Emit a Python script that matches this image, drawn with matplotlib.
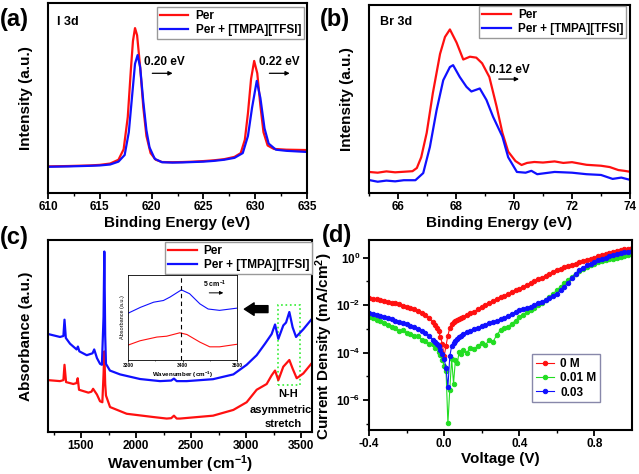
import numpy as np
import matplotlib
matplotlib.use("Agg")
import matplotlib.pyplot as plt
from matplotlib.ticker import MultipleLocator, FixedLocator, NullFormatter, NullLocator
from matplotlib.patches import Rectangle

plt.rcParams["font.family"] = ["Liberation Sans", "DejaVu Sans"]
plt.rcParams["font.weight"] = "bold"
plt.rcParams["axes.labelweight"] = "bold"
plt.rcParams["mathtext.fontset"] = "custom"
plt.rcParams["mathtext.rm"] = "Liberation Sans:bold"
plt.rcParams["mathtext.bf"] = "Liberation Sans:bold"
plt.rcParams["mathtext.it"] = "Liberation Sans:bold:italic"
plt.rcParams["mathtext.default"] = "rm"

RED, BLUE, GREEN = "#ff1010", "#1010ff", "#22dd22"

# (a) I 3d XPS, normalised intensity
a_e_red = [610, 612, 614, 615, 616, 616.8, 617.3, 617.7, 618.0, 618.2, 618.4, 618.6, 618.9, 619.2,
           619.5, 619.9, 620.4, 621, 622, 623, 624, 625, 626, 627, 628, 628.6, 629.0, 629.3,
           629.6, 629.9, 630.2, 630.5, 630.8, 631.2, 631.8, 633, 635]
a_red = [0.140, 0.142, 0.145, 0.148, 0.155, 0.175, 0.23, 0.40, 0.65, 0.80, 0.868, 0.83, 0.66, 0.45,
         0.30, 0.21, 0.175, 0.163, 0.162, 0.163, 0.165, 0.168, 0.172, 0.178, 0.19, 0.21, 0.28, 0.42,
         0.60, 0.695, 0.63, 0.46, 0.32, 0.25, 0.232, 0.228, 0.226]
a_e_blue = [610, 612, 614, 615, 616, 616.8, 617.4, 617.8, 618.1, 618.4, 618.65, 618.9, 619.2, 619.5,
            619.8, 620.3, 621, 622, 623, 624, 625, 626, 627, 628, 628.8, 629.3, 629.7, 630.15,
            630.5, 630.9, 631.3, 632, 633, 635]
a_blue = [0.138, 0.140, 0.143, 0.145, 0.150, 0.165, 0.20, 0.32, 0.50, 0.68, 0.726, 0.66, 0.48, 0.33,
          0.24, 0.18, 0.162, 0.160, 0.161, 0.163, 0.165, 0.169, 0.175, 0.185, 0.21, 0.30, 0.45, 0.59,
          0.50, 0.34, 0.26, 0.228, 0.222, 0.216]

# (b) Br 3d XPS
b_e_red = [65.0, 65.3, 65.6, 65.9, 66.2, 66.5, 66.65, 66.8, 66.99, 67.2, 67.45, 67.62, 67.79, 68.02,
           68.25, 68.48, 68.7, 68.9, 69.15, 69.4, 69.6, 69.8, 70.05, 70.26, 70.45, 70.7, 71.0, 71.4,
           71.7, 72.0, 72.5, 73.0, 73.3, 73.6, 73.8, 74.0]
b_red = [0.112, 0.108, 0.115, 0.110, 0.113, 0.116, 0.133, 0.19, 0.32, 0.53, 0.74, 0.83, 0.87, 0.80,
         0.71, 0.725, 0.72, 0.69, 0.617, 0.46, 0.32, 0.22, 0.17, 0.149, 0.16, 0.165, 0.162, 0.168,
         0.160, 0.164, 0.150, 0.145, 0.138, 0.122, 0.118, 0.113]
b_e_blue = [65.0, 65.3, 65.6, 65.9, 66.2, 66.6, 66.87, 67.1, 67.33, 67.56, 67.79, 67.9, 68.13, 68.36,
            68.53, 68.82, 69.05, 69.28, 69.6, 69.8, 70.1, 70.4, 70.6, 70.8, 71.1, 71.4, 72.0, 72.5,
            73.0, 73.4, 73.7, 74.0]
b_blue = [0.069, 0.060, 0.066, 0.062, 0.068, 0.068, 0.106, 0.245, 0.44, 0.60, 0.67, 0.68, 0.617, 0.565,
          0.54, 0.556, 0.495, 0.405, 0.30, 0.19, 0.112, 0.108, 0.118, 0.100, 0.106, 0.112, 0.108, 0.100,
          0.096, 0.075, 0.082, 0.070]

# (c) FTIR
c_w_blue = [1203, 1309, 1340, 1350, 1362, 1400, 1460, 1472, 1485, 1552, 1605, 1620, 1645, 1673, 1690,
            1705, 1712, 1720, 1727, 1763, 1855, 2036, 2218, 2320, 2345, 2370, 2461, 2700, 2885, 3006,
            3097, 3173, 3233, 3264, 3294, 3339, 3364, 3394, 3424, 3455, 3521, 3600]
c_blue = [0.51, 0.495, 0.50, 0.585, 0.49, 0.46, 0.43, 0.445, 0.42, 0.40, 0.41, 0.43, 0.385, 0.355,
          0.35, 0.60, 0.94, 0.50, 0.355, 0.32, 0.30, 0.276, 0.265, 0.268, 0.278, 0.265, 0.265, 0.275,
          0.30, 0.35, 0.40, 0.46, 0.51, 0.56, 0.485, 0.555, 0.57, 0.625, 0.545, 0.495, 0.535, 0.59]
c_w_red = [1203, 1309, 1340, 1350, 1364, 1430, 1460, 1470, 1482, 1567, 1595, 1610, 1645, 1673, 1694,
           1705, 1712, 1720, 1727, 1764, 1915, 2157, 2279, 2320, 2345, 2370, 2400, 2700, 2885, 3006,
           3097, 3188, 3233, 3264, 3294, 3339, 3394, 3424, 3461, 3521, 3600]
c_red = [0.27, 0.265, 0.27, 0.35, 0.26, 0.25, 0.255, 0.28, 0.22, 0.205, 0.21, 0.225, 0.195, 0.16,
         0.155, 0.30, 0.42, 0.25, 0.19, 0.13, 0.095, 0.078, 0.07, 0.072, 0.085, 0.07, 0.07, 0.085,
         0.115, 0.155, 0.22, 0.25, 0.295, 0.32, 0.27, 0.34, 0.375, 0.33, 0.28, 0.305, 0.36]
# inset of (c)
in_w_blue = [3300, 3323, 3347, 3365, 3377, 3398, 3413, 3432, 3447, 3468, 3500]
in_blue = [0.55, 0.62, 0.68, 0.70, 0.74, 0.825, 0.78, 0.66, 0.60, 0.584, 0.61]
in_w_red = [3300, 3322, 3353, 3371, 3395, 3408, 3432, 3450, 3468, 3500]
in_red = [0.175, 0.226, 0.27, 0.28, 0.32, 0.30, 0.21, 0.155, 0.155, 0.185]

# (d) dark J-V, log10 of current density
d_v = np.round(np.r_[np.arange(-0.40, -0.059, 0.02), np.arange(-0.05, 0.101, 0.01),
                     np.arange(0.12, 1.001, 0.02)], 2)
d_0M = [-1.72, -1.74, -1.76, -1.79, -1.82, -1.86, -1.89, -1.93, -1.97, -2.02, -2.07, -2.12, -2.18,
        -2.24, -2.32, -2.42, -2.55, -2.72,
        -2.84, -2.95, -3.08, -3.33, -3.62, -4.15, -3.70, -3.28, -2.95, -2.80, -2.72, -2.66, -2.62,
        -2.58, -2.53, -2.49,
        -2.42, -2.35, -2.27, -2.16, -2.07, -2.01, -1.93, -1.84, -1.75, -1.66, -1.61, -1.54, -1.46,
        -1.38, -1.30, -1.23, -1.16, -1.08, -1.00, -0.92, -0.84, -0.76, -0.69, -0.61, -0.53, -0.47,
        -0.41, -0.35, -0.30, -0.25, -0.20, -0.15, -0.10, -0.05, 0.00, 0.05, 0.10, 0.14, 0.19, 0.24,
        0.28, 0.31, 0.35, 0.38, 0.42]
d_001M = [-2.49, -2.55, -2.62, -2.68, -2.76, -2.84, -2.90, -2.97, -3.10, -3.05, -3.19, -3.22, -3.30,
          -3.28, -3.45, -3.52, -3.65, -3.62,
          -3.80, -3.70, -3.95, -4.10, -4.30, -4.55, -4.75, -6.97, -5.55, -4.25, -5.30, -4.30, -4.45,
          -3.95, -4.05, -3.90,
          -4.00, -3.80, -3.85, -3.70, -3.60, -3.68, -3.45, -3.55, -3.25, -3.05, -2.98, -2.90, -2.78,
          -2.65, -2.49, -2.40, -2.30, -2.22, -2.10, -2.00, -1.90, -1.80, -1.66, -1.52, -1.37, -1.22,
          -1.07, -0.93, -0.80, -0.67, -0.56, -0.46, -0.38, -0.31, -0.25, -0.20, -0.15, -0.11, -0.07,
          -0.04, 0.00, 0.03, 0.07, 0.10, 0.14]
d_003 = [-2.35, -2.39, -2.43, -2.47, -2.51, -2.56, -2.60, -2.65, -2.70, -2.75, -2.80, -2.86, -2.93,
         -2.99, -3.08, -3.19, -3.30, -3.45,
         -3.54, -3.62, -3.72, -3.89, -4.05, -4.25, -4.66, -5.45, -4.15, -3.72, -3.58, -3.50, -3.42,
         -3.36, -3.28, -3.20,
         -3.14, -3.07, -3.01, -2.94, -2.88, -2.83, -2.77, -2.72, -2.66, -2.60, -2.54, -2.46, -2.37,
         -2.30, -2.22, -2.18, -2.13, -2.07, -2.00, -1.93, -1.86, -1.79, -1.70, -1.61, -1.51, -1.38,
         -1.22, -1.06, -0.86, -0.67, -0.53, -0.42, -0.32, -0.25, -0.18, -0.12, -0.06, -0.01, 0.05,
         0.10, 0.14, 0.18, 0.22, 0.25, 0.28]

fig = plt.figure(figsize=(6.39, 4.74), dpi=100)
W, H = 639, 474
def add_ax(l, t, r, b):
    return fig.add_axes([l / W, 1 - b / H, (r - l) / W, (b - t) / H])

axa = add_ax(48, 3, 307, 193)
axb = add_ax(369, 5, 630, 193)
axc = add_ax(48, 240, 312, 432)
axd = add_ax(369, 240, 632, 430)

for ax in (axa, axb, axc, axd):
    for s in ax.spines.values():
        s.set_linewidth(1.5)
    ax.tick_params(which="major", direction="out", length=4, width=1.3, labelsize=8.5, pad=2,
                   top=False, right=False)
    ax.tick_params(which="minor", direction="out", length=2.5, width=1.0, top=False, right=False)

leg_kw = dict(fontsize=8.5, frameon=True, fancybox=False, edgecolor="#999999", framealpha=1,
              borderpad=0.25, labelspacing=0.15, handlelength=2.4, handletextpad=0.6, borderaxespad=0)
LAB = 11

# (a)
axa.plot(a_e_red, a_red, color=RED, lw=1.6, label="Per")
axa.plot(a_e_blue, a_blue, color=BLUE, lw=1.6, label="Per + [TMPA][TFSI]")
axa.set_xlim(610, 635)
axa.set_ylim(0, 1)
axa.xaxis.set_major_locator(MultipleLocator(5))
axa.xaxis.set_minor_locator(MultipleLocator(2.5))
axa.yaxis.set_major_locator(NullLocator())
axa.set_xlabel("Binding Energy (eV)", fontsize=LAB, labelpad=2)
axa.set_ylabel("Intensity (a.u.)", fontsize=LAB, labelpad=11)
axa.text(610.9, 0.90, "I 3d", fontsize=9, va="center")
axa.text(621.2, 0.69, "0.20 eV", fontsize=8.5, ha="center", va="center")
axa.annotate("", xy=(622.3, 0.63), xytext=(619.8, 0.63),
             arrowprops=dict(arrowstyle="-|>", color="black", lw=0.9, mutation_scale=6))
axa.text(632.3, 0.69, "0.22 eV", fontsize=8.5, ha="center", va="center")
axa.annotate("", xy=(633.6, 0.63), xytext=(631.1, 0.63),
             arrowprops=dict(arrowstyle="-|>", color="black", lw=0.9, mutation_scale=6))
axa.legend(loc="upper right", bbox_to_anchor=(0.988, 0.979), **leg_kw)

# (b)
axb.plot(b_e_red, b_red, color=RED, lw=1.6, label="Per")
axb.plot(b_e_blue, b_blue, color=BLUE, lw=1.6, label="Per + [TMPA][TFSI]")
axb.set_xlim(65, 74)
axb.set_ylim(0, 1)
axb.set_xticks([66, 68, 70, 72, 74])
axb.xaxis.set_minor_locator(MultipleLocator(1))
axb.yaxis.set_major_locator(NullLocator())
axb.set_xlabel("Binding Energy (eV)", fontsize=LAB, labelpad=2)
axb.set_ylabel("Intensity (a.u.)", fontsize=LAB, labelpad=11)
axb.text(65.38, 0.91, "Br 3d", fontsize=9, va="center")
axb.text(69.85, 0.655, "0.12 eV", fontsize=8.5, ha="center", va="center")
axb.annotate("", xy=(70.27, 0.606), xytext=(69.38, 0.606),
             arrowprops=dict(arrowstyle="-|>", color="black", lw=0.9, mutation_scale=6))
axb.legend(loc="upper right", bbox_to_anchor=(0.985, 0.995), **leg_kw)

# (c)
axc.plot(c_w_red, c_red, color=RED, lw=1.6, label="Per")
axc.plot(c_w_blue, c_blue, color=BLUE, lw=1.6, label="Per + [TMPA][TFSI]")
axc.set_xlim(1200, 3600)
axc.set_ylim(0, 1)
axc.xaxis.set_major_locator(MultipleLocator(500))
axc.xaxis.set_minor_locator(MultipleLocator(250))
axc.yaxis.set_major_locator(NullLocator())
axc.set_xlabel("Wavenumber (cm$^{-1}$)", fontsize=LAB, labelpad=1)
axc.set_ylabel("Absorbance (a.u.)", fontsize=LAB, labelpad=11)
axc.add_patch(Rectangle((3291, 0.245), 200, 0.415, fill=False, ls=":", lw=1.2, ec="#33ee33"))
axc.text(3382, 0.20, "N-H", fontsize=8, ha="center", va="center")
axc.text(3318, 0.115, "asymmetric", fontsize=8, ha="center", va="center")
axc.text(3335, 0.04, "stretch", fontsize=8, ha="center", va="center")
axc.annotate("", xy=(2960, 0.64), xytext=(3225, 0.64),
             arrowprops=dict(arrowstyle="simple,head_length=0.7,head_width=0.9,tail_width=0.5",
                             color="black", mutation_scale=10))
axc.legend(loc="upper right", bbox_to_anchor=(1.0, 0.99), **leg_kw)

ins = fig.add_axes([128 / W, 1 - 360 / H, 109 / W, 85 / H])
ins.plot(in_w_blue, in_blue, color=BLUE, lw=0.8)
ins.plot(in_w_red, in_red, color=RED, lw=0.8)
ins.axvline(3398, color="black", ls=(0, (4, 3)), lw=0.8)
ins.set_xlim(3300, 3500)
ins.set_ylim(0, 1)
ins.set_xticks([3300, 3400, 3500])
ins.xaxis.set_minor_locator(MultipleLocator(50))
ins.yaxis.set_major_locator(NullLocator())
ins.tick_params(which="major", labelsize=3.5, length=1.5, width=0.5, pad=1)
ins.tick_params(which="minor", length=1, width=0.4)
for s in ins.spines.values():
    s.set_linewidth(0.6)
ins.set_xlabel("Wavenumber (cm$^{-1}$)", fontsize=4.5, labelpad=1)
ins.set_ylabel("Absorbance (a.u.)", fontsize=4, labelpad=2, fontweight="normal")
ins.text(3460, 0.89, "5 cm$^{-1}$", fontsize=5, ha="center", va="center")
ins.annotate("", xy=(3480, 0.79), xytext=(3444, 0.79),
             arrowprops=dict(arrowstyle="-|>", color="black", lw=0.7, mutation_scale=5))

# (d)
mk = dict(marker="o", markersize=3.2, markeredgewidth=0.7, lw=0.8)
axd.plot(d_v, 10 ** np.array(d_0M), color=RED, label="0 M", **mk)
axd.plot(d_v, 10 ** np.array(d_001M), color=GREEN, label="0.01 M", **mk)
axd.plot(d_v, 10 ** np.array(d_003), color=BLUE, label="0.03", **mk)
axd.set_yscale("log")
axd.set_xlim(-0.4, 1.0)
axd.set_ylim(10 ** -7.25, 10 ** 0.74)
axd.set_xticks([-0.4, 0.0, 0.4, 0.8])
axd.set_xticklabels(["-0.4", "0.0", "0.4", "0.8"])
axd.xaxis.set_minor_locator(FixedLocator([-0.2, 0.2, 0.6]))
axd.yaxis.set_major_locator(FixedLocator([1e0, 1e-2, 1e-4, 1e-6]))
axd.set_yticklabels(["10$^{0}$", "10$^{-2}$", "10$^{-4}$", "10$^{-6}$"])
axd.yaxis.set_minor_locator(FixedLocator([1e-1, 1e-3, 1e-5, 1e-7]))
axd.yaxis.set_minor_formatter(NullFormatter())
axd.set_xlabel("Voltage (V)", fontsize=LAB, labelpad=1)
axd.set_ylabel("Current Density (mA/cm$^{2}$)", fontsize=LAB, labelpad=1)
axd.yaxis.set_label_coords(-0.13, 0.44)
axd.legend(loc="lower left", bbox_to_anchor=(0.62, 0.147), fontsize=8.5, frameon=True, fancybox=False,
           edgecolor="#8888aa", framealpha=1, borderpad=0.3, labelspacing=0.2, handlelength=1.6,
           handletextpad=0.5, borderaxespad=0)

for lab, x, y in [("(a)", 0, 8), ("(b)", 320, 8), ("(c)", 0, 226), ("(d)", 322, 224)]:
    fig.text(x / W, 1 - y / H, lab, fontsize=17, fontweight="bold", ha="left", va="top")

fig.savefig("out.png", dpi=100)
